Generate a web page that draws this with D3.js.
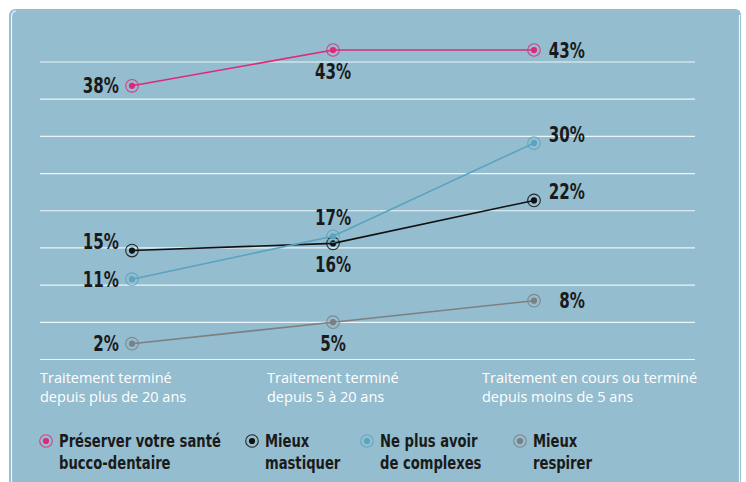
<!DOCTYPE html>
<html>
<head>
<meta charset="utf-8">
<script src="https://cdn.jsdelivr.net/npm/d3@7"></script>
<style>
  body { margin: 0; background: #fff; }
  .val { font-family: "DejaVu Sans Condensed", "DejaVu Sans", sans-serif; font-weight: bold; fill: #1a1a1a; }
  .cat { font-family: "Open Sans", "Lato", sans-serif; fill: #fff; }
</style>
</head>
<body>
<div id="container"></div>
<script>
/* DATA */
const categories = [
  ["Traitement terminé", "depuis plus de 20 ans"],
  ["Traitement terminé", "depuis 5 à 20 ans"],
  ["Traitement en cours ou terminé", "depuis moins de 5 ans"]
];
const seriesNames = [
  ["Préserver votre santé", "bucco-dentaire"],
  ["Mieux", "mastiquer"],
  ["Ne plus avoir", "de complexes"],
  ["Mieux", "respirer"]
];
const preserver = [38, 43, 43];
const mastiquer = [15, 16, 22];
const complexes = [11, 17, 30];
const respirer = [2, 5, 8];

const seriesValues = [preserver, mastiquer, complexes, respirer];
const colors = ["#e0287a", "#111111", "#5aa3c1", "#7d7f83"];

/* label placement per series and column: "l" left, "r" right, "a" above, "b" below, second letter = nudge up */
const labelPlace = [
  ["l", "b", "r"],
  ["la", "b", "ra"],
  ["l", "a", "ra"],
  ["l", "b", "r"]
];

/* SIZES */
const width = 746, height = 482;
const squeeze = 0.8; /* condensed look for the bold labels */

const svg = d3.select("#container")
  .append("svg")
  .attr("width", width)
  .attr("height", height);

/* panel */
svg.append("path")
  .attr("d", "M9,482 L9,16 Q9,9 16,9 L735,9 Q741,9 741,16 L741,482 Z")
  .attr("fill", "#94bdcf");
svg.append("path")
  .attr("d", "M11.5,482 L11.5,17 Q11.5,11.5 16,11")
  .attr("fill", "none").attr("stroke", "#eef6f9").attr("stroke-width", 1.2);
svg.append("path")
  .attr("d", "M739.5,482 L739.5,15")
  .attr("fill", "none").attr("stroke", "#eef6f9").attr("stroke-width", 1.2);

/* SCALES */
const xScale = d3.scalePoint()
  .domain(d3.range(categories.length))
  .range([132, 534]);

const yScale = d3.scaleLinear()
  .domain([0, 43])
  .range([358, 50]);

/* gridlines - evenly spaced rows */
const gridScale = d3.scaleLinear().domain([0, 8]).range([359.5, 62]);
svg.append("g")
  .selectAll("line")
  .data(d3.range(9))
  .join("line")
  .attr("x1", 40)
  .attr("x2", 695)
  .attr("y1", d => gridScale(d))
  .attr("y2", d => gridScale(d))
  .attr("stroke", "#edf5f8")
  .attr("stroke-width", 1.2);

/* category labels */
const catX = [40, 267, 482];
svg.append("g")
  .selectAll("text")
  .data(categories)
  .join("text")
  .attr("class", "cat")
  .attr("font-size", "14.5px")
  .attr("x", (d, i) => catX[i])
  .attr("y", 383)
  .selectAll("tspan")
  .data(d => d)
  .join("tspan")
  .attr("x", function () { return d3.select(this.parentNode).attr("x"); })
  .attr("dy", (d, i) => i === 0 ? 0 : 19)
  .text(d => d);

/* LINES */
const line = d3.line()
  .x((d, i) => xScale(i))
  .y(d => yScale(d));

const series = svg.selectAll(".series")
  .data(seriesValues)
  .join("g")
  .attr("class", "series");

series.append("path")
  .attr("d", d => line(d))
  .attr("fill", "none")
  .attr("stroke", (d, i) => colors[i])
  .attr("stroke-width", 1.6);

/* markers */
function marker(sel, color) {
  sel.append("circle").attr("r", 6.3).attr("fill", "none")
    .attr("stroke", color).attr("stroke-width", 1.1).attr("stroke-opacity", 0.85);
  sel.append("circle").attr("r", 3.1).attr("fill", color);
}

series.each(function (vals, s) {
  const g = d3.select(this);
  vals.forEach((v, i) => {
    const m = g.append("g").attr("transform", `translate(${xScale(i)},${yScale(v)})`);
    marker(m, colors[s]);

    const p = labelPlace[s][i];
    let x = xScale(i), y = yScale(v) + 7.5, anchor = "middle";
    if (p[0] === "l") { x = xScale(i) - 13; anchor = "end"; }
    if (p[0] === "r") { x = 585; anchor = "end"; }
    if (p === "a") y = yScale(v) - 11;
    if (p === "b") y = yScale(v) + 28.5;
    if (p.length > 1 && p[1] === "a") y -= 9;
    g.append("text")
      .attr("class", "val")
      .attr("font-size", "21px")
      .attr("transform", `translate(${x},${y}) scale(${squeeze},1)`)
      .attr("text-anchor", anchor)
      .text(v + "%");
  });
});

/* LEGEND */
const legendX = [46, 252, 367, 520];
const legend = svg.append("g")
  .selectAll("g")
  .data(seriesNames)
  .join("g")
  .attr("transform", (d, i) => `translate(${legendX[i]},441)`);

legend.each(function (d, i) { marker(d3.select(this), colors[i]); });

legend.append("text")
  .attr("class", "val")
  .attr("font-size", "18.5px")
  .attr("transform", `translate(13,6) scale(0.79,1)`)
  .selectAll("tspan")
  .data(d => d)
  .join("tspan")
  .attr("x", 0)
  .attr("dy", (d, i) => i === 0 ? 0 : 22)
  .text(d => d);
</script>
</body>
</html>
